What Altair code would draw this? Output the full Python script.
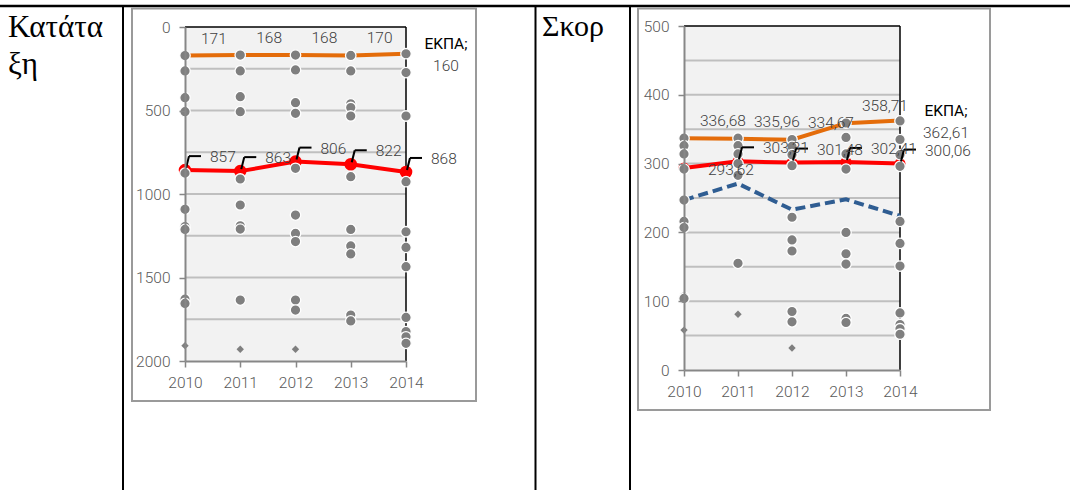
import altair as alt
import pandas as pd

W, H = 1070, 490
FONT_NUM = "Roboto"
FONT_TXT = "Liberation Serif, Tinos, DejaVu Serif, serif"
NUM_SIZE = 15.5

YEARS = [2010, 2011, 2012, 2013, 2014]

# ---- Κατάταξη (ranking) ----
rank_ekpa = [171, 168, 168, 170, 160]
rank_highlight = [857, 863, 806, 822, 868]
rank_other_2010 = [171, 263, 423, 507, 875, 1092, 1195, 1212, 1630, 1655]
rank_other_2011 = [168, 263, 417, 507, 910, 1066, 1190, 1210, 1635]
rank_other_2012 = [168, 257, 453, 517, 846, 1126, 1236, 1285, 1635, 1695]
rank_other_2013 = [170, 263, 460, 482, 533, 896, 1212, 1311, 1359, 1725, 1760]
rank_other_2014 = [160, 273, 533, 926, 1226, 1320, 1435, 1739, 1824, 1855, 1894]
rank_diamond_years = [2010, 2011, 2012]
rank_diamond_values = [1908, 1930, 1930]
rank_ticks = [0, 500, 1000, 1500, 2000]
rank_grid = [250, 500, 750, 1000, 1250, 1500, 1750]

# ---- Σκορ (score) ----
score_ekpa = [336.68, 335.96, 334.67, 358.71, 362.61]
score_highlight = [293.62, 303.31, 301.48, 302.41, 300.06]
score_dashed = [247, 271, 233, 248, 224]
score_other_2010 = [337, 326, 314, 292, 247, 216, 207, 106, 104]
score_other_2011 = [337, 326, 314, 300, 283, 155]
score_other_2012 = [335, 325, 313, 297, 222, 189, 173, 85, 70]
score_other_2013 = [359, 338, 314, 292, 200, 169, 154, 75, 69]
score_other_2014 = [362, 335, 313, 296, 216, 184, 151, 83, 66, 60, 52]
score_diamond_years = [2010, 2011, 2012]
score_diamond_values = [58, 81, 32]
score_ticks = [0, 100, 200, 300, 400, 500]
score_grid = [50, 100, 150, 200, 250, 300, 350, 400, 450]

ORANGE = "#e46c0a"
RED = "#ff0000"
BLUE = "#2f5d92"
GREY_DOT = "#7f7f7f"
LABEL = "#404040"
AXIS_GREY = "#878787"


def series(years, values, fmt=None):
    df = pd.DataFrame({"year": years, "value": values})
    if fmt:
        df["label"] = [fmt(v) for v in values]
    return df


def others(lists):
    rows = []
    for yr, vals in zip(YEARS, lists):
        rows += [{"year": yr, "value": v} for v in vals]
    return pd.DataFrame(rows)


def panel(xs, ys, top_value, bottom_value, ticks, grid, ekpa, highlight, other_lists,
          dia_years, dia_vals, fmt, hl_size, ekpa_dx, leader_from, dashed=None):
    X = lambda f: alt.X(f, type="quantitative", scale=xs, axis=None)
    Y = lambda f: alt.Y(f, type="quantitative", scale=ys, axis=None)
    x_left = xs.range[0]
    y_bottom = max(ys.range)

    axis_style = dict(domainColor=AXIS_GREY, domainWidth=2, tickColor=AXIS_GREY,
                      tickWidth=1.5, tickSize=6, labelFont=FONT_NUM, labelFontSize=NUM_SIZE,
                      labelFontWeight=300, labelColor="#595959", grid=False, title=None,
                      labelFlush=False, labelOverlap=False, format="d", zindex=2)

    bg = pd.DataFrame({"x0": [YEARS[0]], "x1": [YEARS[-1]],
                       "top": [top_value], "bottom": [bottom_value]})
    background = alt.Chart(bg).mark_rect(color="#f2f2f2").encode(
        x=alt.X("x0:Q", scale=xs,
                axis=alt.Axis(orient="bottom", offset=y_bottom - H, values=YEARS,
                              labelPadding=8, **axis_style)),
        x2="x1:Q",
        y=alt.Y("top:Q", scale=ys,
                axis=alt.Axis(orient="left", offset=-x_left, values=ticks,
                              labelPadding=9, **axis_style)),
        y2="bottom:Q",
    )

    gdf = pd.DataFrame({"y": grid, "x0": YEARS[0], "x1": YEARS[-1]})
    gridlines = alt.Chart(gdf).mark_rule(color="#bfbfbf", strokeWidth=2).encode(
        x=X("x0"), x2="x1", y=Y("y"))

    top_border = alt.Chart(bg).mark_rule(color="black", strokeWidth=1.5).encode(
        x=X("x0"), x2="x1", y=Y("top"))
    right_border = alt.Chart(bg).mark_rule(color="black", strokeWidth=1.5).encode(
        x=X("x1"), y=Y("top"), y2="bottom")

    layers = [background, gridlines, top_border, right_border]

    ekpa_df = series(YEARS, ekpa, fmt)
    hl_df = series(YEARS, highlight, fmt)

    if dashed is not None:
        layers.append(alt.Chart(series(YEARS, dashed)).mark_line(
            color=BLUE, strokeWidth=4, strokeDash=[10, 5]).encode(x=X("year"), y=Y("value")))

    layers.append(alt.Chart(ekpa_df).mark_line(color=ORANGE, strokeWidth=4).encode(
        x=X("year"), y=Y("value")))
    layers.append(alt.Chart(hl_df).mark_line(color=RED, strokeWidth=4).encode(
        x=X("year"), y=Y("value")))
    layers.append(alt.Chart(hl_df).mark_circle(color=RED, size=hl_size, opacity=1).encode(
        x=X("year"), y=Y("value")))

    layers.append(alt.Chart(others(other_lists)).mark_circle(
        color=GREY_DOT, size=110, opacity=1, stroke="white", strokeWidth=1.3).encode(
        x=X("year"), y=Y("value")))
    layers.append(alt.Chart(series(dia_years, dia_vals)).mark_point(
        shape="diamond", filled=True, color=GREY_DOT, size=55, opacity=1).encode(
        x=X("year"), y=Y("value")))

    # leader lines for the highlighted series
    lead = hl_df[hl_df["year"] >= leader_from]
    layers.append(alt.Chart(lead).mark_rule(
        color="black", strokeWidth=2, xOffset=1, yOffset=-2, x2Offset=4, y2Offset=-14).encode(
        x=X("year"), x2="year", y=Y("value"), y2="value"))
    layers.append(alt.Chart(lead).mark_rule(
        color="black", strokeWidth=2, xOffset=4, yOffset=-14, x2Offset=16, y2Offset=-14).encode(
        x=X("year"), x2="year", y=Y("value"), y2="value"))

    text_style = dict(font=FONT_NUM, fontSize=NUM_SIZE, fontWeight=300, color=LABEL,
                      baseline="middle")
    layers.append(alt.Chart(lead).mark_text(align="left", dx=25, dy=-13, **text_style).encode(
        x=X("year"), y=Y("value"), text="label:N"))
    free = hl_df[hl_df["year"] < leader_from]
    if len(free):
        layers.append(alt.Chart(free).mark_text(align="left", dx=24, dy=2, **text_style).encode(
            x=X("year"), y=Y("value"), text="label:N"))

    first = ekpa_df[ekpa_df["year"] < YEARS[-1]]
    last = ekpa_df[ekpa_df["year"] == YEARS[-1]]
    layers.append(alt.Chart(first).mark_text(align="left", dx=16, dy=-17, **text_style).encode(
        x=X("year"), y=Y("value"), text="label:N"))
    layers.append(alt.Chart(last).mark_text(align="center", dx=ekpa_dx, dy=12, **text_style).encode(
        x=X("year"), y=Y("value"), text="label:N"))
    layers.append(alt.Chart(last).mark_text(
        align="center", dx=ekpa_dx, dy=-10, text="ΕΚΠΑ;", font=FONT_NUM, fontSize=NUM_SIZE,
        color="black", baseline="middle").encode(x=X("year"), y=Y("value")))
    return layers


rank_layers = panel(
    alt.Scale(domain=[2010, 2014], range=[185, 406], nice=False, zero=False),
    alt.Scale(domain=[0, 2000], range=[27, 361], nice=False, zero=False),
    0, 2000, rank_ticks, rank_grid, rank_ekpa, rank_highlight,
    [rank_other_2010, rank_other_2011, rank_other_2012, rank_other_2013, rank_other_2014],
    rank_diamond_years, rank_diamond_values, lambda v: str(v), 160, 40, 2010)

score_layers = panel(
    alt.Scale(domain=[2010, 2014], range=[684, 900], nice=False, zero=False),
    alt.Scale(domain=[0, 500], range=[370, 26], nice=False, zero=False),
    500, 0, score_ticks, score_grid, score_ekpa, score_highlight,
    [score_other_2010, score_other_2011, score_other_2012, score_other_2013, score_other_2014],
    score_diamond_years, score_diamond_values, lambda v: f"{v:.2f}".replace(".", ","),
    120, 46, 2011, dashed=score_dashed)

# page table and chart frames
one = alt.Chart(pd.DataFrame({"k": [0]}))
table = [
    one.mark_rule(color="black", strokeWidth=2.5).encode(
        x=alt.value(0), x2=alt.value(W), y=alt.value(6)),
    one.mark_rule(color="black", strokeWidth=2).encode(
        x=alt.value(123), y=alt.value(5), y2=alt.value(H)),
    one.mark_rule(color="black", strokeWidth=2).encode(
        x=alt.value(535.5), y=alt.value(5), y2=alt.value(H)),
    one.mark_rule(color="black", strokeWidth=2).encode(
        x=alt.value(630), y=alt.value(5), y2=alt.value(H)),
    one.mark_rect(fill="white", stroke="#9a9a9a", strokeWidth=2).encode(
        x=alt.value(132), x2=alt.value(476), y=alt.value(8.5), y2=alt.value(401)),
    one.mark_rect(fill="white", stroke="#9a9a9a", strokeWidth=2).encode(
        x=alt.value(638), x2=alt.value(990), y=alt.value(8.5), y2=alt.value(410)),
]
titles = [
    one.mark_text(text="Κατάτα", font=FONT_TXT, fontSize=31, align="left",
                  baseline="alphabetic", color="black").encode(x=alt.value(8), y=alt.value(37)),
    one.mark_text(text="ξη", font=FONT_TXT, fontSize=31, align="left",
                  baseline="alphabetic", color="black").encode(x=alt.value(8), y=alt.value(74)),
    one.mark_text(text="Σκορ", font=FONT_TXT, fontSize=30, align="left",
                  baseline="alphabetic", color="black").encode(x=alt.value(542), y=alt.value(36)),
]

chart = alt.layer(*table, *titles, *rank_layers, *score_layers).resolve_scale(
    x="independent", y="independent"
).properties(
    width=W, height=H, padding=0, autosize=alt.AutoSizeParams(type="none"),
    background="white",
).configure_view(stroke=None)

chart.save("out.html", embed_options={"renderer": "svg", "actions": False})
